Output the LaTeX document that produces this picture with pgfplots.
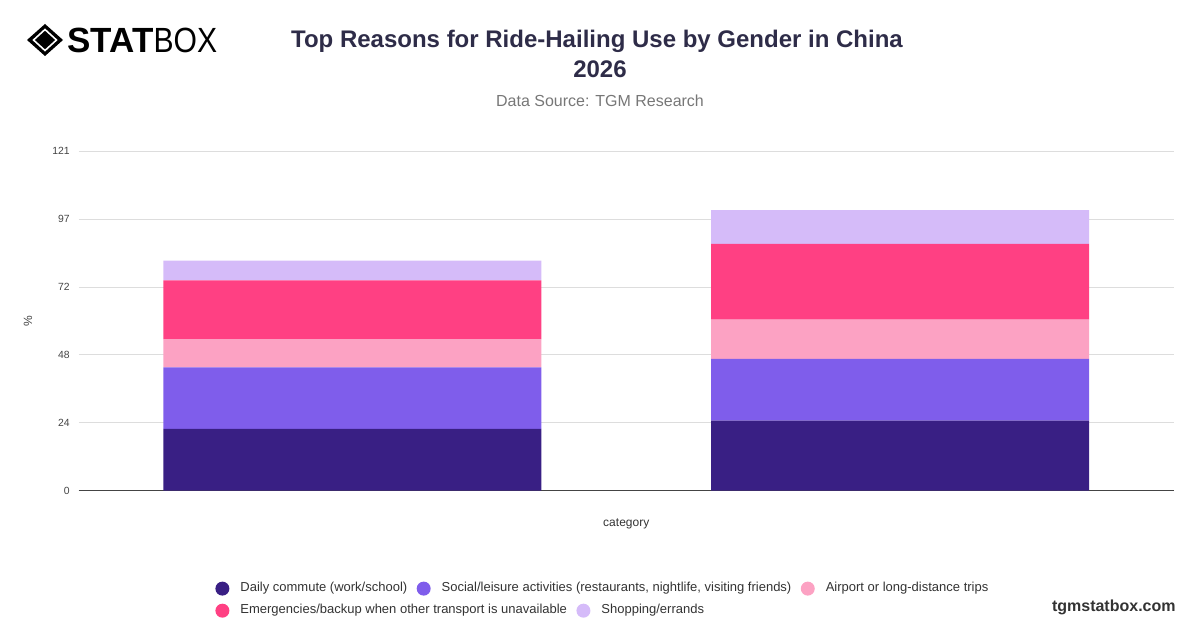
\documentclass[border=0pt]{standalone}
\usepackage{fontspec}
\setmainfont{Liberation Sans}
\usepackage{graphicx}
\usepackage{pgfplots}
\pgfplotsset{compat=1.18}
\definecolor{cCommute}{HTML}{391F84}
\definecolor{cSocial}{HTML}{7F5DEB}
\definecolor{cAirport}{HTML}{FCA2C3}
\definecolor{cEmerg}{HTML}{FF4083}
\definecolor{cShop}{HTML}{D5BBF9}
\definecolor{cTitle}{HTML}{2E2C48}
\definecolor{cSub}{HTML}{777777}
\definecolor{cGrid}{HTML}{DDDDDD}
\definecolor{cAxis}{HTML}{444444}
\definecolor{cTick}{HTML}{444444}
\definecolor{cLeg}{HTML}{333333}
\pgfplotsset{circ legend/.style={legend image code/.code={\fill[##1] (3.5pt,0pt) circle (3.5pt);}}}
\begin{document}
\begin{tikzpicture}[x=0.5pt,y=0.5pt]
\path[use as bounding box] (0,0) rectangle (1200,628);
% logo
\fill[black] (27,588) -- (45,604) -- (63,588) -- (45,572) -- cycle;
\draw[white, line width=0.8pt] (33.5,588) -- (45,598.5) -- (56.5,588) -- (45,577.5) -- cycle;
\node[anchor=base west, inner sep=0pt, font=\fontsize{17.5}{20}\selectfont] at (67,575.5) {\textbf{STAT}\scalebox{0.86}[1]{BOX}};
% titles
\node[anchor=base, inner sep=0pt, text=cTitle, font=\bfseries\fontsize{12}{14}\selectfont] at (597,580) {Top Reasons for Ride-Hailing Use by Gender in China};
\node[anchor=base, inner sep=0pt, text=cTitle, font=\bfseries\fontsize{12}{14}\selectfont] at (600,550) {2026};
\node[anchor=base, inner sep=0pt, text=cSub, font=\fontsize{8}{10}\selectfont] at (600,521) {Data Source: TGM Research};
\node[anchor=base east, inner sep=0pt, text=cLeg, font=\bfseries\fontsize{8}{10}\selectfont] at (1176,16.5) {tgmstatbox.com};
\begin{axis}[
  at={(39.25pt,68.65pt)}, anchor=south west, scale only axis,
  width=547.75pt, height=169.7pt,
  ybar stacked, bar width=0.69,
  xmin=-0.5, xmax=1.5, ymin=0, ymax=121,
  xtick=\empty,
  ytick={0,24.2,48.4,72.6,96.8,121},
  yticklabels={0,24,48,72,97,121},
  ymajorgrids, grid style={draw=cGrid, line width=0.5pt},
  axis lines*=left,
  y axis line style={draw=none},
  x axis line style={draw=cAxis, line width=0.6pt, -},
  major tick length=0pt,
  yticklabel style={font=\fontsize{5.2}{6}\selectfont, text=cTick, inner sep=0pt, anchor=east, xshift=-4.2pt},
  xlabel={category},
  xlabel style={at={(axis description cs:0.5,-0.098)}, anchor=center, font=\fontsize{6}{7}\selectfont, text=cLeg},
  ylabel={\%},
  ylabel style={at={(axis description cs:-0.0461,0.5)}, anchor=center, rotate=0, font=\fontsize{6}{7}\selectfont, text=cTick},
  legend columns=-1,
  legend style={at={(axis description cs:0.1246,-0.2885)}, anchor=west, draw=none, fill=none, inner sep=0pt,
    font=\fontsize{6.5}{8}\selectfont, text=cLeg, nodes={inner sep=0pt},
    /tikz/every odd column/.append style={column sep=5.5pt},
    /tikz/every even column/.append style={column sep=4.7pt}},
]
\addplot[fill=cCommute, draw=none, circ legend] coordinates {(0,22) (1,25)};
\addlegendentry{Daily commute (work/school)}
\addplot[fill=cSocial, draw=none, circ legend] coordinates {(0,22) (1,22)};
\addlegendentry{Social/leisure activities (restaurants, nightlife, visiting friends)}
\addplot[fill=cAirport, draw=none, circ legend] coordinates {(0,10) (1,14)};
\addlegendentry{Airport or long-distance trips}
\addplot[fill=cEmerg, draw=none] coordinates {(0,21) (1,27)};
\addplot[fill=cShop, draw=none] coordinates {(0,7) (1,12)};
\end{axis}
\begin{axis}[
  at={(39.25pt,68.65pt)}, anchor=south west, scale only axis,
  width=547.75pt, height=169.7pt,
  hide axis, xmin=0, xmax=1, ymin=0, ymax=1,
  circ legend,
  legend columns=-1,
  legend style={at={(axis description cs:0.1246,-0.3535)}, anchor=west, draw=none, fill=none, inner sep=0pt,
    font=\fontsize{6.5}{8}\selectfont, text=cLeg, nodes={inner sep=0pt},
    /tikz/every odd column/.append style={column sep=5.5pt},
    /tikz/every even column/.append style={column sep=4.7pt}},
]
\addlegendimage{fill=cEmerg, draw=none}
\addlegendentry{Emergencies/backup when other transport is unavailable}
\addlegendimage{fill=cShop, draw=none}
\addlegendentry{Shopping/errands}
\end{axis}
\end{tikzpicture}
\end{document}
